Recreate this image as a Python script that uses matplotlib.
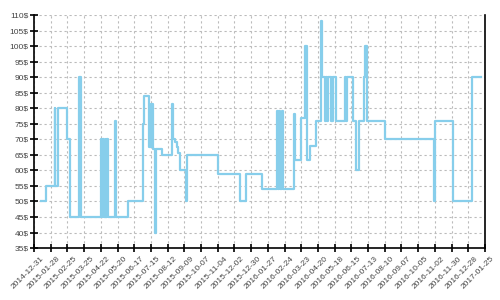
import numpy as np
import matplotlib
matplotlib.use("Agg")
import matplotlib.pyplot as plt
import matplotlib.dates as mdates
import matplotlib.transforms as mtransforms

# Price history (step changes)
dates = [
    "2015-01-11", "2015-01-20", "2015-02-04", "2015-02-05", "2015-02-09",
    "2015-02-25", "2015-03-01", "2015-03-17", "2015-03-19",
    "2015-04-22", "2015-04-24", "2015-04-26", "2015-04-28", "2015-04-30",
    "2015-05-01", "2015-05-02", "2015-05-04",
    "2015-05-15", "2015-05-17", "2015-05-18", "2015-06-06",
    "2015-07-01", "2015-07-04", "2015-07-11", "2015-07-15", "2015-07-19",
    "2015-07-22", "2015-07-24", "2015-08-03", "2015-08-20", "2015-08-21",
    "2015-08-24", "2015-08-27", "2015-08-30", "2015-09-01", "2015-09-12",
    "2015-09-14", "2015-11-05", "2015-12-11", "2015-12-21",
    "2016-01-17", "2016-02-11", "2016-02-13", "2016-02-15", "2016-02-17",
    "2016-02-19", "2016-02-21", "2016-03-11", "2016-03-12", "2016-03-22",
    "2016-03-30", "2016-04-01", "2016-04-07", "2016-04-17", "2016-04-25",
    "2016-04-26", "2016-05-02", "2016-05-04", "2016-05-05", "2016-05-07",
    "2016-05-12", "2016-05-13", "2016-05-14", "2016-05-15", "2016-05-21",
    "2016-06-04", "2016-06-06", "2016-06-07", "2016-06-17", "2016-06-23",
    "2016-06-28", "2016-07-06", "2016-07-08", "2016-07-09", "2016-07-10",
    "2016-07-11", "2016-08-10", "2016-11-01", "2016-11-02", "2016-12-02",
    "2017-01-04", "2017-01-19",
]
prices = [
    50, 55, 80, 55, 80,
    70, 45, 90, 45,
    70, 45, 70, 45, 70,
    45, 70, 45,
    76, 72, 45, 50,
    75, 84, 67.5, 81.5, 67,
    40, 67, 65, 81.5, 70,
    69, 67.5, 65.5, 60, 50,
    65, 59, 50, 59,
    54, 79, 54, 79, 54,
    79, 54, 78, 63.5, 77,
    100, 63.5, 68, 76, 108,
    90, 76, 90, 76, 90,
    76, 90, 76, 90, 76,
    90, 76, 90, 76, 60,
    76, 90, 100, 90, 100,
    76, 70, 50, 76, 50,
    90, 90,
]

yticks = list(range(35, 111, 5))
x_start = np.datetime64("2014-12-31")
x_end = np.datetime64("2017-01-25")

x = np.array(dates, dtype="datetime64[D]")
y = np.array(prices, dtype=float)

fig = plt.figure(figsize=(5, 3), dpi=100)
ax = fig.add_axes([0.068, 0.173, 0.902, 0.777])

ax.plot(x, y, drawstyle="steps-post", color="#87ceeb", lw=1.6, zorder=3)

ax.set_xlim(x_start, x_end)
ax.set_ylim(35, 110)

xticks = np.arange(x_start, x_end + np.timedelta64(1, "D"), np.timedelta64(28, "D"))
ax.set_xticks(xticks)
ax.xaxis.set_major_formatter(mdates.DateFormatter("%Y-%m-%d"))
ax.set_yticks(yticks)
ax.set_yticklabels([f"{v}$" for v in yticks])

ax.grid(True, color="#bbbbbb", lw=0.8, linestyle=(0, (2, 2.5)))
ax.set_axisbelow(True)

for s in ["left", "bottom", "right"]:
    ax.spines[s].set_linewidth(1.2)
    ax.spines[s].set_color("black")
ax.spines["top"].set_visible(False)

ax.tick_params(axis="both", direction="inout", length=6, width=1.2,
               labelsize=6, labelcolor="#444444", pad=2)
ax.tick_params(axis="y", pad=1)

offset = mtransforms.ScaledTranslation(0.11, 0, fig.dpi_scale_trans)
for lab in ax.get_xticklabels():
    lab.set_rotation(45)
    lab.set_ha("right")
    lab.set_transform(lab.get_transform() + offset)
for lab in ax.get_xticklabels() + ax.get_yticklabels():
    lab.set_family("Liberation Sans")

fig.savefig("out.png", dpi=100)
